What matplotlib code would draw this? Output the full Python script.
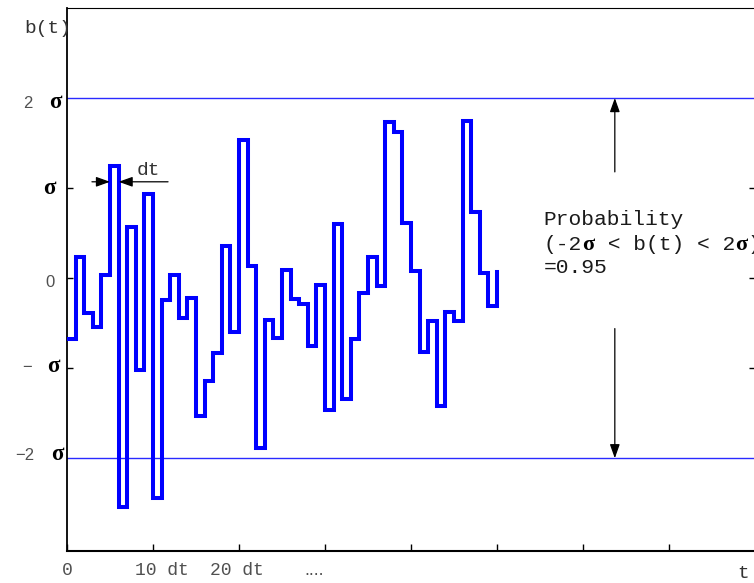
import matplotlib
matplotlib.use('Agg')
import matplotlib.pyplot as plt
import numpy as np

# b(t) held constant over each interval dt, in units of sigma
# (the last value only closes the final step)
b_values = [-0.68, 0.23, -0.39, -0.54, 0.04, 1.24, -2.54, 0.57, -1.02, 0.93,
            -2.44, -0.24, 0.04, -0.44, -0.22, -1.53, -1.14, -0.83, 0.36, -0.60,
            1.53, 0.13, -1.89, -0.47, -0.67, 0.09, -0.23, -0.29, -0.75, -0.08,
            -1.46, 0.60, -1.34, -0.68, -0.16, 0.24, -0.09, 1.73, 1.62, 0.61,
            0.08, -0.82, -0.48, -1.42, -0.38, -0.48, 1.74, 0.74, 0.06, -0.31,
            0.07]
t_index = np.arange(len(b_values))

band_levels = [-2, 2]
x_ticks = [0, 10, 20, 30, 40, 50, 60, 70]
x_label_text = ['0', '10 dt', '20 dt', '....']
x_label_pos = [0, 11.05, 19.8, 28.7]
prob_lines = ['Probability', '(-2σ < b(t) < 2σ)', '=0.95']

MONO = 'Liberation Mono'
SANS = 'Liberation Sans'
SERIF = 'Liberation Serif'
GREY = '#505050'
PX = 0.72  # points per pixel at 100 dpi

fig = plt.figure(figsize=(7.54, 5.83), dpi=100)
ax = fig.add_axes([67 / 754, 32 / 583, 688 / 754, 543 / 583])
ax.set_xlim(0, 80)
ax.set_ylim(-3.03, 3.0)

# the random step signal and the +/- 2 sigma band
ax.plot(t_index, b_values, drawstyle='steps-post', color='#0000ff',
        lw=2.9, solid_joinstyle='miter', zorder=3)
for lev in band_levels:
    ax.axhline(lev, color='#2a2aff', lw=1.0, zorder=2)

# frame
ax.spines['right'].set_visible(False)
ax.spines['top'].set_linewidth(0.8)
ax.spines['left'].set_linewidth(1.3)
ax.spines['bottom'].set_linewidth(1.5)

ax.set_xticks(x_ticks)
ax.tick_params(axis='x', direction='in', length=5, width=1.0,
               labelbottom=False, colors='black')
ax.set_yticks([-1, 0, 1])
ax.tick_params(axis='y', direction='in', length=4.5, width=1.0,
               labelleft=False, right=True)
for tk, val in zip(ax.yaxis.get_major_ticks(), [-1, 0, 1]):
    c = 'black' if val == 0 else '#777777'
    tk.tick1line.set_color(c)
    tk.tick2line.set_color(c)

ytr = ax.get_yaxis_transform()
xtr = ax.get_xaxis_transform()


def ylab(level, s, dx_px, dy_px, kind):
    if kind == 'sig':
        kw = dict(family=SERIF, weight='bold', fontsize=16.5, color='black')
    else:
        kw = dict(family=SANS, fontsize=12, color=GREY)
    ax.annotate(s, xy=(0, level), xycoords=ytr,
                xytext=(dx_px * PX, -dy_px * PX), textcoords='offset points',
                ha='center', va='baseline', annotation_clip=False, **kw)


ylab(2, '2', -39, 10, 'num')
ylab(2, 'σ', -12, 10, 'sig')
ylab(1, 'σ', -18, 6, 'sig')
ylab(0, '0', -17.5, 9, 'num')
ylab(-1, '\u2212', -40, 4, 'num')
ylab(-1, 'σ', -14, 4, 'sig')
ylab(-2, '\u22122', -42, 2, 'num')
ylab(-2, 'σ', -9.5, 2, 'sig')

# x tick labels
for pos, s in zip(x_label_pos, x_label_text):
    fam = SANS if s.startswith('.') else MONO
    ax.annotate(s, xy=(pos, 0), xycoords=xtr, xytext=(0, -24 * PX),
                textcoords='offset points', ha='center', va='baseline',
                family=fam, fontsize=13, color=GREY, annotation_clip=False)

# axis names
ax.annotate('b(t)', xy=(0, 1), xycoords='axes fraction',
            xytext=(-43 * PX, -25 * PX), textcoords='offset points',
            ha='left', va='baseline', family=MONO, fontsize=14, color='#333333',
            annotation_clip=False)
ax.annotate('t', xy=(1, 0), xycoords='axes fraction',
            xytext=(-12 * PX, -27 * PX), textcoords='offset points',
            ha='center', va='baseline', family=MONO, fontsize=14, color='#333333',
            annotation_clip=False)

arrow_kw = dict(arrowstyle='-|>,head_length=0.7,head_width=0.25', color='black',
                lw=0.9, mutation_scale=12, shrinkA=0, shrinkB=0)

# width of one step
dt_y = 1.07
ax.annotate('', xy=(5, dt_y), xytext=(2.9, dt_y), arrowprops=arrow_kw)
ax.annotate('', xy=(6, dt_y), xytext=(11.75, dt_y), arrowprops=arrow_kw)
ax.text(8.1, 1.14, 'dt', family=MONO, fontsize=14, color='#333333',
        ha='left', va='baseline')

# probability band annotation
arrow_x = 63.7
ax.annotate('', xy=(arrow_x, 2.0), xytext=(arrow_x, 1.18), arrowprops=arrow_kw)
ax.annotate('', xy=(arrow_x, -2.0), xytext=(arrow_x, -0.56), arrowprops=arrow_kw)


def mono_sigma(x, y, s, fs):
    """Monospaced line where each sigma is set in a bold serif face."""
    adv = 0.6 * fs
    pieces = s.split('σ')
    col = 0
    for k, piece in enumerate(pieces):
        if piece:
            ax.annotate(piece, xy=(x, y), xytext=(adv * col, 0),
                        textcoords='offset points', ha='left', va='baseline',
                        family=MONO, fontsize=fs, color='#1a1a1a',
                        annotation_clip=False)
        col += len(piece)
        if k < len(pieces) - 1:
            ax.annotate('σ', xy=(x, y), xytext=(adv * (col + 0.5), 0),
                        textcoords='offset points', ha='center', va='baseline',
                        family=SERIF, weight='bold', fontsize=fs * 1.05,
                        color='black', annotation_clip=False)
            col += 1


text_x = 55.45
for s, yb in zip(prob_lines, [0.59, 0.31, 0.055]):
    mono_sigma(text_x, yb, s, 15.3)

fig.savefig('out.png', dpi=100)
